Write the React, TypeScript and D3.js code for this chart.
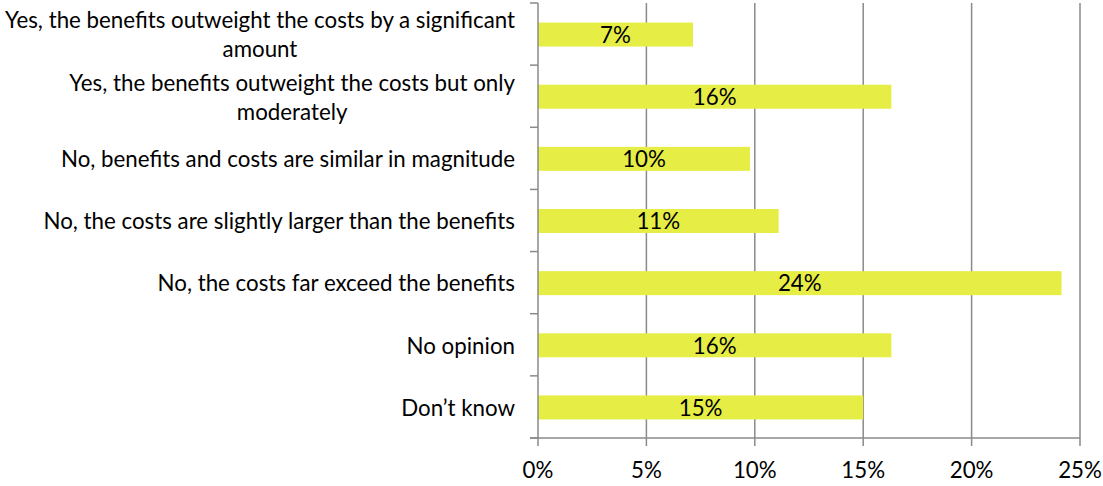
import React, { useEffect, useRef } from "react";
import * as d3 from "d3";

const categories: string[] = [
  "Yes, the benefits outweight the costs by a significant\namount",
  "Yes, the benefits outweight the costs but only\nmoderately",
  "No, benefits and costs are similar in magnitude",
  "No, the costs are slightly larger than the benefits",
  "No, the costs far exceed the benefits",
  "No opinion",
  "Don\u2019t know",
];
const values: number[] = [7.15, 16.3, 9.78, 11.1, 24.15, 16.3, 15.0];
const valueLabels: string[] = ["7%", "16%", "10%", "11%", "24%", "16%", "15%"];
const xTicks: number[] = [0, 5, 10, 15, 20, 25];

const W = 1103;
const H = 486;
const FONT = "Lato, 'Open Sans', sans-serif";
const FS = 22.3;

export default function App() {
  const ref = useRef<SVGSVGElement>(null);
  useEffect(() => {
    const svg = d3.select(ref.current);
    svg.selectAll("*").remove();
    const x = d3.scaleLinear().domain([0, 25]).range([538, 1080]);
    const y = d3.scaleBand<number>().domain(d3.range(categories.length)).range([3, 438]);
    const grid = "#8a8a8a";

    // gridlines
    svg.append("g").selectAll("line").data(xTicks.filter((t) => t > 0)).join("line")
      .attr("x1", (d) => x(d)).attr("x2", (d) => x(d))
      .attr("y1", 3).attr("y2", 438)
      .attr("stroke", grid).attr("stroke-width", 1.5);

    // bars
    const bh = 24;
    svg.append("g").selectAll("rect").data(values).join("rect")
      .attr("x", x(0)).attr("width", (d) => x(d) - x(0))
      .attr("y", (_d, i) => y(i)! + y.bandwidth() / 2 - bh / 2 + 0.5)
      .attr("height", bh).attr("fill", "#E6ED45");

    // value labels
    svg.append("g").selectAll("text").data(values).join("text")
      .attr("x", (d) => (x(0) + x(d)) / 2)
      .attr("y", (_d, i) => y(i)! + y.bandwidth() / 2 + 1)
      .attr("dy", "0.35em")
      .attr("text-anchor", "middle")
      .attr("font-family", FONT).attr("font-size", FS).attr("fill", "#000")
      .text((_d, i) => valueLabels[i]);

    // axes
    svg.append("line").attr("x1", x(0)).attr("x2", x(0)).attr("y1", 3).attr("y2", 438)
      .attr("stroke", grid).attr("stroke-width", 1.5);
    svg.append("line").attr("x1", 530).attr("x2", x(25)).attr("y1", 438).attr("y2", 438)
      .attr("stroke", grid).attr("stroke-width", 1.5);
    svg.append("g").selectAll("line").data(d3.range(categories.length + 1)).join("line")
      .attr("x1", 530).attr("x2", x(0))
      .attr("y1", (i) => (i < categories.length ? y(i)! : 438))
      .attr("y2", (i) => (i < categories.length ? y(i)! : 438))
      .attr("stroke", grid).attr("stroke-width", 1.5);
    svg.append("g").selectAll("line").data(xTicks).join("line")
      .attr("x1", (d) => x(d)).attr("x2", (d) => x(d))
      .attr("y1", 438).attr("y2", 446)
      .attr("stroke", grid).attr("stroke-width", 1.5);

    // x tick labels
    svg.append("g").selectAll("text").data(xTicks).join("text")
      .attr("x", (d) => x(d)).attr("y", 470).attr("dy", "0.35em")
      .attr("text-anchor", "middle")
      .attr("font-family", FONT).attr("font-size", FS).attr("fill", "#000")
      .text((d) => `${d}%`);

    // category labels
    const right = 515;
    const lh = 29;
    categories.forEach((c, i) => {
      const lines = c.split("\n");
      const cy = y(i)! + y.bandwidth() / 2 + 1;
      const g = svg.append("g");
      const texts = lines.map((ln, j) =>
        g.append("text")
          .attr("y", cy + (j - (lines.length - 1) / 2) * lh)
          .attr("dy", "0.35em")
          .attr("font-family", FONT).attr("font-size", FS).attr("fill", "#000")
          .attr("text-anchor", "middle")
          .text(ln)
      );
      const widths = texts.map((t) => (t.node() as SVGTextElement).getComputedTextLength());
      const maxW = Math.max(...widths);
      texts.forEach((t) => t.attr("x", right - maxW / 2));
    });
  }, []);
  return (
    <svg ref={ref} width={W} height={H}
      style={{ position: "absolute", left: 0, top: 0, background: "#fff" }} />
  );
}
